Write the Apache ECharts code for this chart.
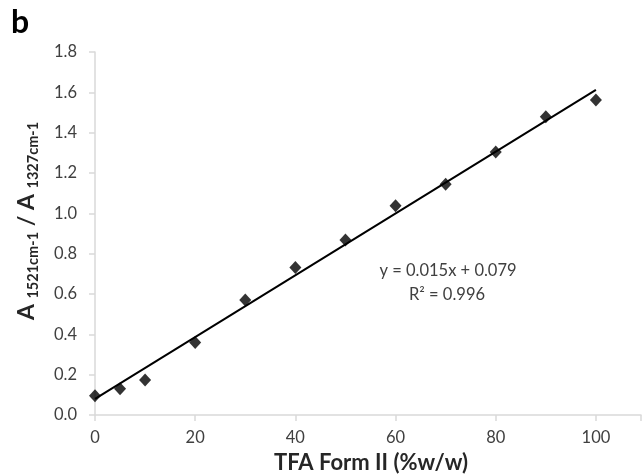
<!DOCTYPE html>
<html>
<head>
<meta charset="utf-8">
<script src="https://cdn.jsdelivr.net/npm/echarts@6/dist/echarts.min.js"></script>
<style>html,body{margin:0;padding:0;background:#fff}#c{width:644px;height:474px}</style>
</head>
<body>
<div id="c"></div>
<script>
var xValues = [0, 5, 10, 20, 30, 40, 50, 60, 70, 80, 90, 100];
var yValues = [0.095, 0.13, 0.174, 0.36, 0.57, 0.732, 0.868, 1.038, 1.144, 1.304, 1.479, 1.562];
var trendX = [0, 100];
var trendY = [0.08, 1.612];
var xTicks = [0, 20, 40, 60, 80, 100];
var yTicks = [0.0, 0.2, 0.4, 0.6, 0.8, 1.0, 1.2, 1.4, 1.6, 1.8];
var equationText = 'y = 0.015x + 0.079';
var r2Text = 'R² = 0.996';

var FONT = 'Lato, "Open Sans", sans-serif';
var chart = echarts.init(document.getElementById('c'));
chart.setOption({
  animation: false,
  backgroundColor: '#fff',
  grid: {left: 95, top: 52, right: 0, bottom: 59},
  xAxis: {
    type: 'value', min: 0, max: 109, interval: 20,
    axisLine: {show: true, lineStyle: {color: '#d9d9d9', width: 1.5}},
    axisTick: {show: true, length: 6, lineStyle: {color: '#d9d9d9', width: 1.5}},
    splitLine: {show: false},
    axisLabel: {
      fontFamily: FONT, fontSize: 16.5, color: '#404040', margin: 14,
      formatter: function (v) { return xTicks.indexOf(v) >= 0 ? String(v) : ''; }
    }
  },
  yAxis: {
    type: 'value', min: 0, max: 1.8, interval: 0.2,
    axisLine: {show: true, lineStyle: {color: '#d9d9d9', width: 1.5}},
    axisTick: {show: true, length: 6, lineStyle: {color: '#d9d9d9', width: 1.5}},
    splitLine: {show: false},
    axisLabel: {
      fontFamily: FONT, fontSize: 16.5, color: '#404040', margin: 18,
      formatter: function (v) { return v.toFixed(1); }
    }
  },
  series: [
    {
      type: 'line',
      data: trendX.map(function (x, i) { return [x, trendY[i]]; }),
      symbol: 'none',
      lineStyle: {color: '#000', width: 2},
      z: 2
    },
    {
      type: 'scatter',
      data: xValues.map(function (x, i) { return [x, yValues[i]]; }),
      symbol: 'diamond',
      symbolSize: [12, 13],
      itemStyle: {color: '#000'},
      z: 3
    }
  ],
  graphic: [
    {type: 'text', left: 11, top: 7, style: {text: 'b', font: 'bold 32px ' + FONT, fill: '#000'}},
    {type: 'text', x: 448, y: 271, style: {text: equationText, font: '16.5px ' + FONT, fill: '#404040', align: 'center', verticalAlign: 'middle'}},
    {type: 'text', x: 447, y: 295, style: {text: r2Text, font: '16.5px ' + FONT, fill: '#404040', align: 'center', verticalAlign: 'middle'}},
    {type: 'text', x: 371, y: 463, style: {text: 'TFA Form II (%w/w)', font: 'bold 22px ' + FONT, fill: '#262626', align: 'center', verticalAlign: 'middle'}},
    {
      type: 'text', x: 27, y: 221, rotation: Math.PI / 2,
      style: {
        text: '{a|A }{s|1521cm-1}{a| / A }{s|1327cm-1}',
        align: 'center', verticalAlign: 'middle', fill: '#262626',
        rich: {
          a: {fontFamily: FONT, fontSize: 23, fontWeight: 'bold', lineHeight: 28, fill: '#262626'},
          s: {fontFamily: FONT, fontSize: 14.5, fontWeight: 'bold', lineHeight: 15, verticalAlign: 'bottom', fill: '#262626'}
        }
      }
    }
  ]
});
</script>
</body>
</html>
